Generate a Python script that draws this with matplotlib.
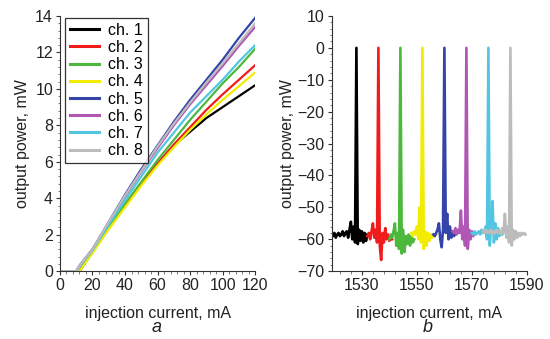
import numpy as np
import matplotlib
matplotlib.use("Agg")
import matplotlib.pyplot as plt
from matplotlib.ticker import AutoMinorLocator, MultipleLocator

plt.rcParams['font.family'] = ['Liberation Sans', 'DejaVu Sans']
plt.rcParams['font.size'] = 11.5

channels = ['ch. 1', 'ch. 2', 'ch. 3', 'ch. 4', 'ch. 5', 'ch. 6', 'ch. 7', 'ch. 8']
colors = ['#000000', '#f01c1c', '#4cb83c', '#f2ec00', '#3444a8', '#b056b4', '#52c6e0', '#bcbcbc']

# (a) L-I curves
current = [0, 10, 12, 20, 30, 40, 50, 60, 70, 80, 90, 100, 110, 120]
power = [
    [0, 0, 0, 1.05, 2.35, 3.6, 4.8, 5.9, 6.9, 7.65, 8.4, 9.0, 9.6, 10.2],
    [0, 0, 0, 1.1, 2.35, 3.6, 4.8, 5.9, 6.95, 7.9, 8.85, 9.7, 10.5, 11.3],
    [0, 0, 0, 1.1, 2.4, 3.7, 4.9, 6.1, 7.2, 8.3, 9.3, 10.3, 11.2, 12.2],
    [0, 0, 0, 1.0, 2.3, 3.5, 4.7, 5.8, 6.8, 7.75, 8.6, 9.4, 10.15, 10.9],
    [0, 0, 0.3, 1.2, 2.7, 4.2, 5.6, 6.9, 8.2, 9.4, 10.5, 11.6, 12.8, 13.9],
    [0, 0, 0.3, 1.2, 2.65, 4.1, 5.45, 6.75, 8.0, 9.15, 10.2, 11.25, 12.35, 13.4],
    [0, 0, 0.25, 1.15, 2.55, 3.9, 5.2, 6.5, 7.6, 8.7, 9.6, 10.5, 11.5, 12.4],
    [0, 0, 0.3, 1.2, 2.7, 4.15, 5.5, 6.85, 8.1, 9.25, 10.35, 11.4, 12.5, 13.6],
]

# (b) spectra: start wavelength, 0.5 step samples
spec_start = [1519, 1532, 1540, 1548, 1556, 1563, 1570, 1574]
spectra = [
    [-58.5, -59, -58, -59.5, -58.5, -58, -59, -58.5, -57.5, -59, -58, -57.5, -59.5, -57,
     -54.5, -60, -56, -61, 0, -61.5, -57, -60.5, -57.5, -61, -58, -60.5, -58.5],
    [-59, -58, -60, -57.5, -55, -59.5, -57, -61, 0, -62, -66.5, -58, -61, -56.5, -60,
     -58.5, -60.5, -59, -60],
    [-60, -58.5, -59.5, -57.5, -55, -62, -58, -63, 0, -64.5, -57, -64, -59, -61.5, -58.5,
     -62, -59, -61, -60],
    [-58, -59, -57.5, -58.5, -56, -60, -50, -61, 0, -63, -57.5, -62, -58, -60.5, -58.5,
     -59.5, -58.5, -59, -58.5],
    [-58.5, -59, -58, -57, -55, -60, -62.5, -57, 0, -58, -52, -60, -56, -59.5, -57.5,
     -59, -58],
    [-57.5, -58, -56.5, -58.5, -57, -58, -51, -60, -56, -62, 0, -63, -57, -60, -57.5,
     -59, -58],
    [-58, -58.5, -57.5, -58.5, -58, -57.5, -58.5, -57, -58, -57.5, -56, -60, 0, -62, -55,
     -48, -61, -55, -60, -56.5, -59, -58, -58.5],
    [-57.5, -58, -57, -58, -57.5, -58, -57, -58.5, -57.5, -58, -57, -58, -57.5, -58.5,
     -56.5, -58, -52, -59.5, -56, -61, 0, -62, -57, -60, -57.5, -59.5, -58, -59, -58,
     -58.5, -58, -58.5],
]


def style_axes(ax):
    for side in ['top', 'right']:
        ax.spines[side].set_visible(False)
    for side in ['left', 'bottom']:
        ax.spines[side].set_color('#333333')
        ax.spines[side].set_linewidth(0.8)
    ax.xaxis.set_minor_locator(AutoMinorLocator(5))
    ax.yaxis.set_minor_locator(AutoMinorLocator(5))
    ax.tick_params(which='major', direction='out', length=3, width=0.8, colors='#333333',
                   labelcolor='#222222', labelsize=11.5, pad=2)
    ax.tick_params(which='minor', direction='out', length=1.8, width=0.6, colors='#666666')


fig = plt.figure(figsize=(5.5, 3.39), dpi=100)
ax1 = fig.add_axes([0.109, 0.200, 0.355, 0.753])
ax2 = fig.add_axes([0.603, 0.200, 0.355, 0.753])

for i in range(len(channels)):
    ax1.plot(current, power[i], color=colors[i], lw=1.6, label=channels[i])
ax1.set_xlim(0, 120)
ax1.set_ylim(0, 14)
ax1.xaxis.set_major_locator(MultipleLocator(20))
ax1.yaxis.set_major_locator(MultipleLocator(2))
style_axes(ax1)
ax1.set_xlabel('injection current, mA', fontsize=11.5, labelpad=9, color='#222222')
ax1.set_ylabel('output power, mW', fontsize=11.5, labelpad=4, color='#222222')
leg = ax1.legend(loc='upper left', bbox_to_anchor=(0.01, 1.005), frameon=True, fancybox=False,
                 edgecolor='black', fontsize=11.5, handlelength=1.8, handletextpad=0.6,
                 labelspacing=0.14, borderpad=0.3, borderaxespad=0.2)
leg.get_frame().set_linewidth(0.9)
for line in leg.get_lines():
    line.set_linewidth(2.2)

for i in range(len(channels)):
    wl = spec_start[i] + 0.5 * np.arange(len(spectra[i]))
    ax2.plot(wl, spectra[i], color=colors[i], lw=1.9)
ax2.set_xlim(1519, 1589.5)
ax2.set_ylim(-70, 10)
ax2.set_xticks([1530, 1550, 1570, 1590])
ax2.yaxis.set_major_locator(MultipleLocator(10))
style_axes(ax2)
ax2.yaxis.set_major_formatter(plt.FuncFormatter(lambda v, p: f'{int(v)}'.replace('-', '\u2212')))
ax2.set_xlabel('injection current, mA', fontsize=11.5, labelpad=9, color='#222222')
ax2.set_ylabel('output power, mW', fontsize=11.5, labelpad=2, color='#222222')

fig.text(0.285, 0.02, 'a', fontsize=13, style='italic', ha='center', color='#222222')
fig.text(0.778, 0.02, 'b', fontsize=13, style='italic', ha='center', color='#222222')

fig.savefig('out.png', dpi=100)
